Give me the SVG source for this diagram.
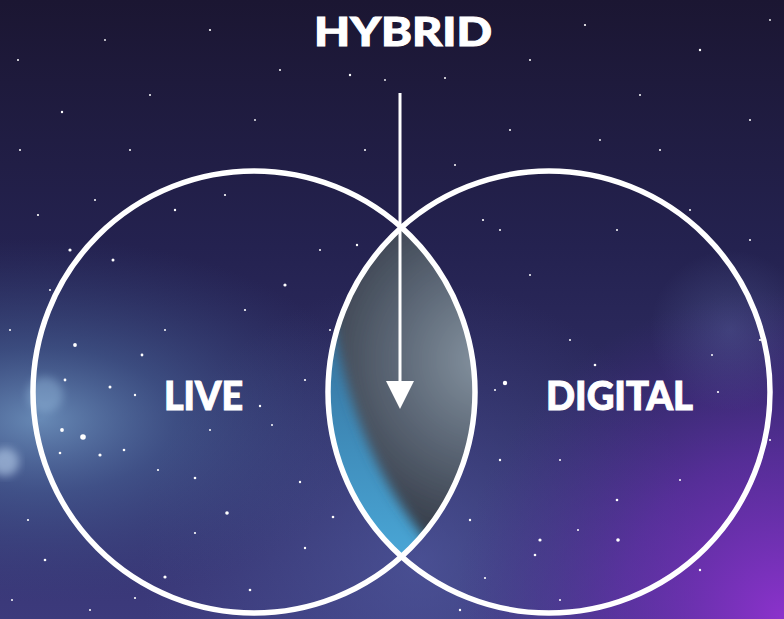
<svg xmlns="http://www.w3.org/2000/svg" width="784" height="619" viewBox="0 0 784 619">
<defs>
<style>
.ring{fill:none;stroke:#fff;stroke-width:5.5}
.lbl{font-family:"Lato","Liberation Sans",sans-serif;font-weight:900;fill:#fff;stroke:#fff;stroke-width:1;font-size:39px}
.st{fill:#fff}
</style>
<linearGradient id="bg" x1="0" y1="0" x2="0" y2="1">
<stop offset="0" stop-color="#1b1632"/>
<stop offset="0.4" stop-color="#242250"/>
<stop offset="1" stop-color="#3c3a7c"/>
</linearGradient>
<radialGradient id="glowBlue" cx="40" cy="420" r="260" gradientUnits="userSpaceOnUse" gradientTransform="translate(40 420) scale(1.3 0.7) translate(-40 -420)">
<stop offset="0" stop-color="#7aa8d0" stop-opacity="0.75"/>
<stop offset="0.4" stop-color="#4f76a8" stop-opacity="0.45"/>
<stop offset="1" stop-color="#3a4e88" stop-opacity="0"/>
</radialGradient>
<radialGradient id="glowPurple" cx="784" cy="619" r="330" gradientUnits="userSpaceOnUse">
<stop offset="0" stop-color="#8c32cc" stop-opacity="1"/>
<stop offset="0.5" stop-color="#6c2cb4" stop-opacity="0.6"/>
<stop offset="1" stop-color="#4a2a90" stop-opacity="0"/>
</radialGradient>
<radialGradient id="glowMid" cx="420" cy="560" r="280" gradientUnits="userSpaceOnUse">
<stop offset="0" stop-color="#5a68b0" stop-opacity="0.5"/>
<stop offset="1" stop-color="#4a5a98" stop-opacity="0"/>
</radialGradient>
<radialGradient id="glowRight" cx="730" cy="330" r="80" gradientUnits="userSpaceOnUse">
<stop offset="0" stop-color="#6a7ab8" stop-opacity="0.3"/>
<stop offset="1" stop-color="#6a7ab8" stop-opacity="0"/>
</radialGradient>
<linearGradient id="lensBlue" x1="0" y1="0" x2="0" y2="1">
<stop offset="0" stop-color="#2c5a84"/>
<stop offset="1" stop-color="#4aa8d8"/>
</linearGradient>
<radialGradient id="lensGray" cx="485" cy="360" r="200" gradientUnits="userSpaceOnUse">
<stop offset="0" stop-color="#8593a0"/>
<stop offset="0.45" stop-color="#5c6776"/>
<stop offset="1" stop-color="#2e3440"/>
</radialGradient>
<clipPath id="lensClip">
<path d="M400,227 A221,221 0 0 1 400,557 A221,221 0 0 1 400,227 Z"/>
</clipPath>
<filter id="soft" x="-20%" y="-20%" width="140%" height="140%">
<feGaussianBlur stdDeviation="4"/>
</filter>
<filter id="soft2" x="-20%" y="-20%" width="140%" height="140%">
<feGaussianBlur stdDeviation="6"/>
</filter>
<marker id="head" markerUnits="userSpaceOnUse" markerWidth="30" markerHeight="30" viewBox="0 0 30 30" refX="2" refY="15" orient="auto">
<path d="M0,1 L28,15 L0,29 Z" fill="#fff"/>
</marker>
</defs>

<g id="background">
<rect width="784" height="619" fill="url(#bg)"/>
<rect width="784" height="619" fill="url(#glowMid)"/>
<rect width="784" height="619" fill="url(#glowBlue)"/>
<rect width="784" height="619" fill="url(#glowPurple)"/>
<rect width="784" height="619" fill="url(#glowRight)"/>
<circle cx="45" cy="395" r="18" fill="#a8d0f0" opacity="0.35" filter="url(#soft)"/>
<circle cx="5" cy="462" r="14" fill="#d0e8ff" opacity="0.5" filter="url(#soft)"/>
<g class="st">
<circle cx="18" cy="60" r="1"/><circle cx="62" cy="112" r="1.2"/><circle cx="105" cy="40" r="0.9"/><circle cx="150" cy="95" r="1"/><circle cx="210" cy="30" r="1.1"/>
<circle cx="255" cy="120" r="0.9"/><circle cx="280" cy="70" r="1"/><circle cx="350" cy="75" r="1.2"/><circle cx="385" cy="80" r="0.9"/><circle cx="445" cy="78" r="1"/>
<circle cx="530" cy="60" r="1"/><circle cx="585" cy="25" r="1.1"/><circle cx="640" cy="95" r="1"/><circle cx="700" cy="50" r="1.2"/><circle cx="750" cy="120" r="1"/>
<circle cx="770" cy="20" r="0.9"/><circle cx="660" cy="150" r="1"/><circle cx="600" cy="140" r="0.9"/><circle cx="510" cy="130" r="1"/><circle cx="130" cy="150" r="1"/>
<circle cx="38" cy="215" r="1.1"/><circle cx="70" cy="250" r="1.6"/><circle cx="95" cy="200" r="1"/><circle cx="113" cy="260" r="1.5"/><circle cx="175" cy="210" r="1.2"/>
<circle cx="225" cy="195" r="1.1"/><circle cx="285" cy="285" r="1.6"/><circle cx="245" cy="310" r="1.1"/><circle cx="142" cy="355" r="1.4"/><circle cx="75" cy="345" r="1.9"/>
<circle cx="65" cy="380" r="1.4"/><circle cx="110" cy="387" r="1.5"/><circle cx="135" cy="395" r="1.2"/><circle cx="260" cy="406" r="1.2"/><circle cx="272" cy="425" r="1"/>
<circle cx="62" cy="430" r="1.9"/><circle cx="83" cy="437" r="2.8"/><circle cx="60" cy="453" r="1.3"/><circle cx="100" cy="455" r="1.6"/><circle cx="124" cy="450" r="1.3"/>
<circle cx="158" cy="470" r="1.1"/><circle cx="195" cy="478" r="1.3"/><circle cx="227" cy="513" r="1.8"/><circle cx="195" cy="533" r="1.1"/><circle cx="300" cy="482" r="1.2"/>
<circle cx="305" cy="548" r="1.2"/><circle cx="333" cy="517" r="1.3"/><circle cx="165" cy="577" r="1.6"/><circle cx="135" cy="598" r="1.1"/><circle cx="250" cy="590" r="1.3"/>
<circle cx="28" cy="520" r="1.1"/><circle cx="45" cy="560" r="1.3"/><circle cx="12" cy="600" r="1"/><circle cx="90" cy="610" r="1"/><circle cx="210" cy="430" r="1"/>
<circle cx="165" cy="330" r="1"/><circle cx="305" cy="380" r="1.1"/><circle cx="330" cy="330" r="1"/><circle cx="357" cy="245" r="1.2"/><circle cx="365" cy="150" r="1"/>
<circle cx="483" cy="220" r="1.1"/><circle cx="500" cy="230" r="1"/><circle cx="530" cy="275" r="1"/><circle cx="570" cy="340" r="1"/><circle cx="595" cy="365" r="1.3"/>
<circle cx="505" cy="383" r="2.2"/><circle cx="495" cy="390" r="1"/><circle cx="640" cy="395" r="1"/><circle cx="718" cy="392" r="1.1"/><circle cx="712" cy="355" r="1"/>
<circle cx="760" cy="340" r="1.1"/><circle cx="500" cy="460" r="1.2"/><circle cx="560" cy="460" r="1"/><circle cx="617" cy="500" r="1.3"/><circle cx="578" cy="530" r="1"/>
<circle cx="540" cy="540" r="1.6"/><circle cx="535" cy="555" r="1.3"/><circle cx="618" cy="540" r="1.8"/><circle cx="680" cy="480" r="1"/><circle cx="700" cy="570" r="1.2"/>
<circle cx="485" cy="578" r="1.1"/><circle cx="460" cy="610" r="1.2"/><circle cx="560" cy="600" r="1"/><circle cx="730" cy="520" r="1"/><circle cx="770" cy="440" r="1"/>
<circle cx="750" cy="240" r="1"/><circle cx="690" cy="210" r="1"/><circle cx="617" cy="230" r="1"/><circle cx="455" cy="165" r="1"/><circle cx="320" cy="250" r="1"/>
<circle cx="430" cy="405" r="1"/><circle cx="470" cy="520" r="1.2"/><circle cx="50" cy="290" r="1"/><circle cx="10" cy="330" r="1"/><circle cx="20" cy="150" r="1"/>
</g>
</g>

<g id="node-hybrid">
<g clip-path="url(#lensClip)">
<rect x="320" y="220" width="170" height="345" fill="url(#lensBlue)"/>
<path d="M332,220 L332,310 C345,405 378,482 430,545 L490,560 L490,220 Z" fill="url(#lensGray)" filter="url(#soft2)"/>
</g>
<text class="lbl" x="403" y="46" text-anchor="middle" textLength="178" lengthAdjust="spacingAndGlyphs">HYBRID</text>
</g>

<g id="node-live">
<circle class="ring" cx="254" cy="392" r="221"/>
<text class="lbl" x="203.5" y="410" text-anchor="middle" textLength="79" lengthAdjust="spacingAndGlyphs">LIVE</text>
</g>

<g id="node-digital">
<circle class="ring" cx="549" cy="392" r="221"/>
<text class="lbl" x="619.5" y="410" text-anchor="middle" textLength="147" lengthAdjust="spacingAndGlyphs">DIGITAL</text>
</g>

<g id="connectors">
<line x1="400" y1="93" x2="400" y2="383" stroke="#fff" stroke-width="3" marker-end="url(#head)"/>
</g>
</svg>
